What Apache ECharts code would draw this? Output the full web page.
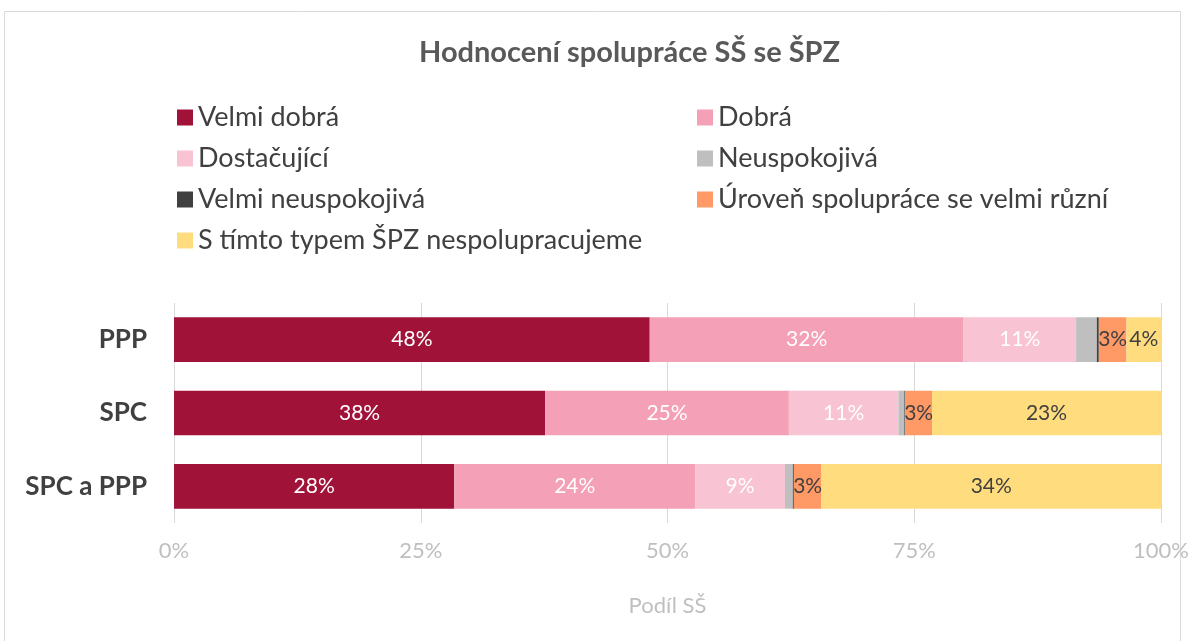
<!DOCTYPE html>
<html>
<head>
<meta charset="utf-8">
<script src="https://cdn.jsdelivr.net/npm/echarts@6/dist/echarts.min.js"></script>
<style>
  html, body { margin: 0; padding: 0; background: #fff; }
  #main { width: 1193px; height: 641px; }
</style>
</head>
<body>
<div id="main"></div>
<script>
    // data (share of schools, %)
    var categories = ['PPP', 'SPC', 'SPC a PPP'];
    var seriesNames = ['Velmi dobrá', 'Dobrá', 'Dostačující', 'Neuspokojivá',
        'Velmi neuspokojivá', 'Úroveň spolupráce se velmi různí', 'S tímto typem ŠPZ nespolupracujeme'];
    var velmiDobra = [48.2, 37.6, 28.4];
    var dobra = [31.8, 24.7, 24.4];
    var dostacujici = [11.4, 11.1, 9.1];
    var neuspokojiva = [2.1, 0.6, 0.8];
    var velmiNeuspokojiva = [0.2, 0.1, 0.1];
    var ruzni = [2.8, 2.7, 2.8];
    var nespolupracujeme = [3.5, 23.2, 34.4];
    var xTicks = [0, 25, 50, 75, 100];

    var values = [velmiDobra, dobra, dostacujici, neuspokojiva, velmiNeuspokojiva, ruzni, nespolupracujeme];
    var colors = ['#A01237', '#F4A0B7', '#F8C3D2', '#BFBFBF', '#404040', '#FF9966', '#FFDD7F'];
    var labelColors = ['#fff', '#fff', '#fff', '#fff', '#fff', '#404040', '#404040'];

    var font = 'Lato, "Open Sans", sans-serif';

    var series = values.map(function (vals, i) {
        return {
            name: seriesNames[i],
            type: 'bar',
            stack: 'total',
            barWidth: '61%',
            data: vals,
            itemStyle: { color: colors[i] },
            label: {
                show: true,
                position: 'inside',
                color: labelColors[i],
                fontFamily: font,
                fontSize: 21,
                formatter: function (p) {
                    return p.value >= 2.5 ? Math.round(p.value) + '%' : '';
                }
            }
        };
    });

    var legendText = { fontSize: 27, color: '#404040', fontFamily: font };

    var chart = echarts.init(document.getElementById('main'));
    var option = {
        animation: false,
        textStyle: { fontFamily: font },
        title: {
            text: 'Hodnocení spolupráce SŠ se ŠPZ',
            left: 414,
            top: 33,
            textStyle: { fontFamily: font, fontSize: 29, fontWeight: 'bold', color: '#595959' }
        },
        legend: [
            {
                orient: 'vertical',
                left: 172,
                top: 99,
                itemWidth: 16,
                itemHeight: 16,
                itemGap: 14,
                data: [seriesNames[0], seriesNames[2], seriesNames[4], seriesNames[6]],
                textStyle: legendText,
                icon: 'rect'
            },
            {
                orient: 'vertical',
                left: 692,
                top: 99,
                itemWidth: 16,
                itemHeight: 16,
                itemGap: 14,
                data: [seriesNames[1], seriesNames[3], seriesNames[5]],
                textStyle: legendText,
                icon: 'rect'
            }
        ],
        graphic: [{
            type: 'rect',
            shape: { x: 4.5, y: 11.5, width: 1176, height: 660 },
            style: { fill: 'none', stroke: '#D9D9D9', lineWidth: 1 },
            silent: true
        }],
        grid: { left: 174, right: 32, top: 303, bottom: 118 },
        xAxis: {
            type: 'value',
            min: xTicks[0],
            max: xTicks[xTicks.length - 1],
            interval: 25,
            name: 'Podíl SŠ',
            nameLocation: 'middle',
            nameGap: 72,
            nameTextStyle: { fontSize: 22, color: '#BFBFBF', fontFamily: font },
            axisLine: { show: false },
            axisTick: { show: false },
            axisLabel: {
                formatter: '{value}%',
                fontSize: 22,
                color: '#BFBFBF',
                margin: 17,
                fontFamily: font
            },
            splitLine: { show: true, lineStyle: { color: '#D9D9D9' } }
        },
        yAxis: {
            type: 'category',
            inverse: true,
            data: categories,
            axisLine: { show: false },
            axisTick: { show: false },
            axisLabel: {
                fontSize: 26,
                fontWeight: 'bold',
                color: '#404040',
                margin: 27,
                fontFamily: font
            }
        },
        series: series
    };
    chart.setOption(option);
</script>
</body>
</html>
